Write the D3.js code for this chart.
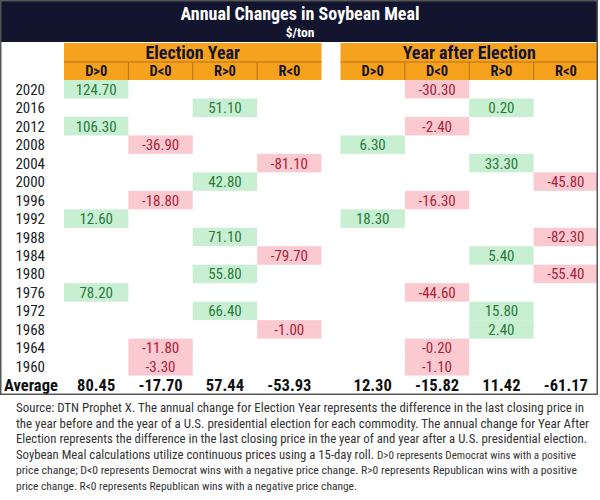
<!DOCTYPE html>
<html>
<head>
<meta charset="utf-8">
<title>Annual Changes in Soybean Meal</title>
<script src="https://d3js.org/d3.v7.min.js"></script>
<style>
  body { margin: 0; background: #fff; }
  svg text { font-family: "Roboto Condensed", "Liberation Sans Narrow", "DejaVu Sans Condensed", "Noto Sans", sans-serif; }
</style>
</head>
<body>
<div id="chart"></div>
<script>
// ---- data ----
var years   = [2020, 2016, 2012, 2008, 2004, 2000, 1996, 1992, 1988, 1984, 1980, 1976, 1972, 1968, 1964, 1960];
var winners = ["D", "R", "D", "D", "R", "R", "D", "D", "R", "R", "R", "D", "R", "R", "D", "D"];
var electionChange = [124.70, 51.10, 106.30, -36.90, -81.10, 42.80, -18.80, 12.60, 71.10, -79.70, 55.80, 78.20, 66.40, -1.00, -11.80, -3.30];
// party for year-after follows the winner of the election year itself
var afterChange    = [-30.30, 0.20, -2.40, 6.30, 33.30, -45.80, -16.30, 18.30, -82.30, 5.40, -55.40, -44.60, 15.80, 2.40, -0.20, -1.10];
var categories = ["D>0", "D<0", "R>0", "R<0"];
var groups = ["Election Year", "Year after Election"];
var electionAvg = [80.45, -17.70, 57.44, -53.93];
var afterAvg    = [12.30, -15.82, 11.42, -61.17];

// [text, font size, width it takes in the reference]
var footerLines = [
  [["Source: DTN Prophet X. The annual change for Election Year represents the difference in the last closing price in", 12.8, 568]],
  [["the year before and the year of a U.S. presidential election for each commodity. The annual change for Year After", 12.8, 573]],
  [["Election represents the difference in the last closing price in the year of and year after a U.S. presidential election.", 12.4, 571]],
  [["Soybean Meal calculations utilize continuous prices using a 15-day roll.", 12.8, 358], ["D>0 represents Democrat wins with a positive", 11.4, 199]],
  [["price change; D<0 represents Democrat wins with a negative price change. R>0 represents Republican wins with a positive", 11.4, 561]],
  [["price change. R<0 represents Republican wins with a negative price change.", 11.4, 341]]
];

var width = 600, height = 500;
var navy = "#13152f", orange = "#f7a21c", line = "#b8701a";
var goodFill = "#c8efd1", goodText = "#2a7a3c";
var badFill = "#fbc9d0", badText = "#a8223a";

var svg = d3.select("#chart").append("svg")
    .attr("width", width)
    .attr("height", height);

// ---- scales ----
var gx = d3.scaleBand().domain(groups).range([64, 598]).paddingInner(0.0687);
var cx = d3.scaleBand().domain(categories).range([0, gx.bandwidth()]);
var rowKeys = years.map(String).concat(["Average"]);
var y = d3.scaleBand().domain(rowKeys).range([80, 394]);

function cat(party, v) { return party + (v >= 0 ? ">0" : "<0"); }

// ---- title bar ----
svg.append("rect").attr("x", 0).attr("y", 0).attr("width", 598).attr("height", 42).attr("fill", navy);
svg.append("text").attr("x", 300).attr("y", 20).attr("text-anchor", "middle")
    .attr("fill", "#fff").attr("font-size", 18).attr("font-weight", "bold")
    .text("Annual Changes in Soybean Meal");
svg.append("text").attr("x", 300).attr("y", 37).attr("text-anchor", "middle")
    .attr("fill", "#fff").attr("font-size", 13.5).attr("font-weight", "bold")
    .text("$/ton");

// ---- header ----
var head = svg.selectAll(".grp").data(groups).enter().append("g")
    .attr("class", "grp")
    .attr("transform", function(d) { return "translate(" + gx(d) + ",0)"; });
head.append("rect").attr("y", 43).attr("width", gx.bandwidth()).attr("height", 37).attr("fill", orange);
head.append("line").attr("x1", 0).attr("x2", gx.bandwidth()).attr("y1", 62).attr("y2", 62)
    .attr("stroke", line).attr("stroke-width", 1);
head.append("text").attr("x", gx.bandwidth() / 2).attr("y", 59).attr("text-anchor", "middle")
    .attr("font-size", 18).attr("font-weight", "bold").attr("fill", "#14142a")
    .text(function(d) { return d; });
head.selectAll(".sub").data(categories).enter().append("text")
    .attr("x", function(d) { return cx(d) + cx.bandwidth() / 2; })
    .attr("y", 76).attr("text-anchor", "middle")
    .attr("font-size", 14.5).attr("font-weight", "bold").attr("fill", "#14142a")
    .text(function(d) { return d; });
head.selectAll(".sep").data(categories.slice(1)).enter().append("line")
    .attr("x1", function(d) { return cx(d); }).attr("x2", function(d) { return cx(d); })
    .attr("y1", 62).attr("y2", 80).attr("stroke", line).attr("stroke-width", 1);

// ---- cells ----
var cells = [];
years.forEach(function(yr, i) {
  cells.push({ row: String(yr), group: groups[0], cat: cat(winners[i], electionChange[i]), v: electionChange[i] });
  cells.push({ row: String(yr), group: groups[1], cat: cat(winners[i], afterChange[i]), v: afterChange[i] });
});

var cg = svg.selectAll(".cell").data(cells).enter().append("g")
    .attr("class", "cell")
    .attr("transform", function(d) { return "translate(" + (gx(d.group) + cx(d.cat)) + "," + y(d.row) + ")"; });
cg.append("rect").attr("width", cx.bandwidth()).attr("height", y.bandwidth())
    .attr("fill", function(d) { return d.v >= 0 ? goodFill : badFill; });
cg.append("text").attr("x", cx.bandwidth() / 2).attr("y", y.bandwidth() / 2 + 5.5)
    .attr("text-anchor", "middle").attr("font-size", 15)
    .attr("fill", function(d) { return d.v >= 0 ? goodText : badText; })
    .text(function(d) { return d.v.toFixed(2); });

// ---- row labels ----
svg.selectAll(".yr").data(years).enter().append("text")
    .attr("x", 45).attr("y", function(d) { return y(String(d)) + y.bandwidth() / 2 + 5.5; })
    .attr("text-anchor", "end").attr("font-size", 15).attr("fill", "#222")
    .text(function(d) { return d; });

// ---- average row ----
svg.append("text").attr("x", 4).attr("y", y("Average") + y.bandwidth() / 2 + 6)
    .attr("font-size", 16.5).attr("font-weight", "bold").attr("fill", "#111")
    .text("Average");
var avgs = [];
categories.forEach(function(c, i) {
  avgs.push({ group: groups[0], cat: c, v: electionAvg[i] });
  avgs.push({ group: groups[1], cat: c, v: afterAvg[i] });
});
svg.selectAll(".avg").data(avgs).enter().append("text")
    .attr("x", function(d) { return gx(d.group) + cx(d.cat) + cx.bandwidth() / 2; })
    .attr("y", y("Average") + y.bandwidth() / 2 + 6)
    .attr("text-anchor", "middle").attr("font-size", 16.5).attr("font-weight", "bold").attr("fill", "#111")
    .text(function(d) { return d.v.toFixed(2); });

// frame round the table
svg.append("rect").attr("x", 0.75).attr("y", 0.75).attr("width", 596.5).attr("height", 393.5)
    .attr("fill", "none").attr("stroke", "#555").attr("stroke-width", 1.5);

// ---- footer ----
var foot = svg.append("g");
footerLines.forEach(function(parts, i) {
  var x0 = 16;
  parts.forEach(function(p) {
    foot.append("text").attr("x", x0).attr("y", 412 + i * 15.6)
        .attr("fill", "#333").attr("font-size", p[1])
        .attr("textLength", p[2]).attr("lengthAdjust", "spacingAndGlyphs")
        .text(p[0]);
    x0 += p[2] + 3;
  });
});
</script>
</body>
</html>
